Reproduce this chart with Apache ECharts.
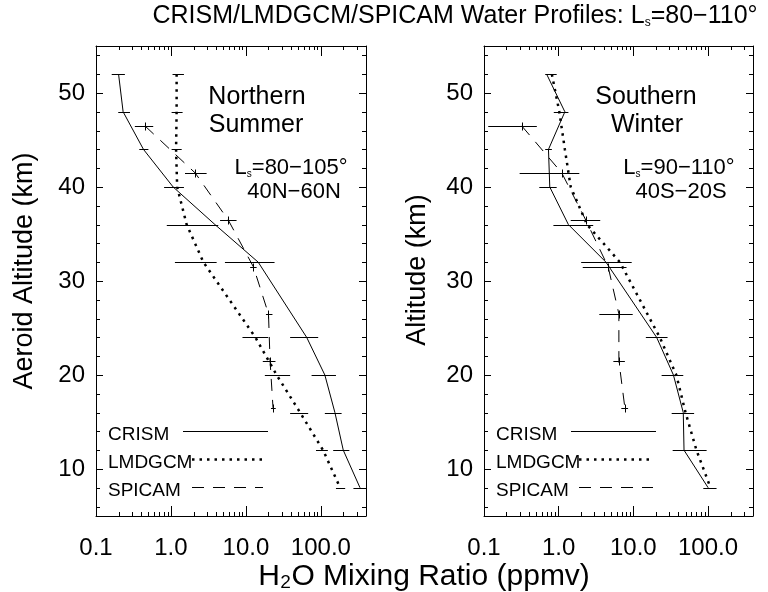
<!DOCTYPE html>
<html><head><meta charset="utf-8">
<script src="https://cdn.jsdelivr.net/npm/echarts@6/dist/echarts.min.js"></script>
<style>html,body{margin:0;padding:0;background:#fff}#c{width:768px;height:592px}</style>
</head><body><div id="c"></div>
<script>
// ---------- axis ranges & tick values ----------
const X_MIN = 0.1, X_MAX = 400, Y_MIN = 5, Y_MAX = 55;
const xMinorTicks = [0.2,0.3,0.4,0.5,0.6,0.7,0.8,0.9, 2,3,4,5,6,7,8,9, 20,30,40,50,60,70,80,90, 200,300];
const yMinorTicks = [6,8,12,14,16,18,22,24,26,28,32,34,36,38,42,44,46,48,52,54];

// ---------- Northern Summer (left panel) ----------
const crismAltN = [52,48,44,40,36,32,24,20,16,12,8];
const crismValN = [0.2,0.23,0.43,1.07,3.87,14.6,64.7,113,154,199,333];
const crismLoN  = [0.162,0.198,0.378,0.81,null,5.25,38.9,75.2,113,146,272];
const crismHiN  = [0.243,0.284,0.50,1.49,null,24.1,92.1,159,189,240,400];

const lmdAltN = [52,48,44,40,36,32,24,20,16,12,8];
const lmdValN = [1.19,1.19,1.17,1.21,1.62,2.71,13.4,25.7,52.9,107,181];
const lmdLoN  = [1.05,1.02,1.02,null,0.88,1.13,9.0,17.9,38.9,86.1,159];
const lmdHiN  = [1.49,1.43,1.39,null,4.28,4.07,19.8,38.9,67.7,124,211];

const spiAltN = [46.5,41.5,36.5,31.5,26.5,21.5,16.5];
const spiValN = [0.45,2.1,5.8,12.6,20,21,23];
const spiLoN  = [0.33,1.54,4.52,11.4,18.5,16.8,21.6];
const spiHiN  = [0.58,2.99,7.5,13.9,22.6,24.8,25.0];

// ---------- Southern Winter (right panel) ----------
const crismAltS = [52,48,44,40,36,32,24,20,16,12,8];
const crismValS = [0.69,1.21,0.73,0.76,1.35,4.3,20.5,34.4,46.6,47.7,100.5];
const crismLoS  = [0.66,0.86,0.66,0.55,0.85,2.0,14.7,23.9,32.6,33.6,86.4];
const crismHiS  = [0.94,1.35,0.81,0.94,2.9,9.5,28.7,46.6,65.1,95.7,130];

const lmdAltS = [52,48,44,40,36,32,24,20,16,12,8];
const lmdValS = [0.81,1.02,1.21,1.45,2.4,6.6,22.6,37.6,50,70,108];

const spiAltS = [46.5,41.5,36.5,31.5,26.5,21.5,16.5];
const spiValS = [0.32,1.1,2.3,4.6,6.4,6.4,7.7];
const spiLoS  = [0.114,0.30,1.45,2.1,3.5,5.4,6.9];
const spiHiS  = [0.51,1.89,3.6,8.1,9.8,7.7,8.5];

// ---------- helpers ----------
const FONT = 'Liberation Sans, Arial, sans-serif';
const BLACK = '#000';
function pairs(vals, alts){ return vals.map((v,i)=>[v, alts[i]]); }
function bars(lo, hi, alts, vals){
  const out = [];
  lo.forEach((l,i)=>{ if (l!=null && hi[i]!=null) out.push([l, hi[i], alts[i], vals[i]]); });
  return out;
}
function fmtX(v){
  const l = Math.log10(v);
  return Math.abs(l - Math.round(l)) < 1e-6 ? v.toFixed(1) : '';
}
function errRender(withTick){
  return function(params, api){
    const y = api.value(2);
    const a = api.coord([api.value(0), y]);
    const b = api.coord([api.value(1), y]);
    const py = Math.round(a[1]) + 0.5;
    const ch = [{type:'line', shape:{x1:a[0], y1:py, x2:b[0], y2:py}, style:{stroke:BLACK, lineWidth:1}}];
    if (withTick){
      const c = api.coord([api.value(3), y]);
      const px = Math.round(c[0]) + 0.5;
      ch.push({type:'line', shape:{x1:px, y1:py-4, x2:px, y2:py+4}, style:{stroke:BLACK, lineWidth:1}});
    }
    return {type:'group', children:ch};
  };
}
function xMinorRender(params, api){
  const v = api.value(0);
  const b = api.coord([v, Y_MIN]), t = api.coord([v, Y_MAX]);
  const x = Math.round(b[0]) + 0.5;
  return {type:'group', children:[
    {type:'line', shape:{x1:x, y1:b[1], x2:x, y2:b[1]-4}, style:{stroke:BLACK, lineWidth:1}},
    {type:'line', shape:{x1:x, y1:t[1], x2:x, y2:t[1]+4}, style:{stroke:BLACK, lineWidth:1}}
  ]};
}
function yMinorRender(params, api){
  const v = api.value(1);
  const l = api.coord([X_MIN, v]), r = api.coord([X_MAX, v]);
  const y = Math.round(l[1]) + 0.5;
  return {type:'group', children:[
    {type:'line', shape:{x1:l[0], y1:y, x2:l[0]+4, y2:y}, style:{stroke:BLACK, lineWidth:1}},
    {type:'line', shape:{x1:r[0], y1:y, x2:r[0]-4, y2:y}, style:{stroke:BLACK, lineWidth:1}}
  ]};
}

const axisLine = {show:true, onZero:false, lineStyle:{color:BLACK, width:1}};
function xAx(grid, pos){
  return {gridIndex:grid, type:'log', logBase:10, min:X_MIN, max:X_MAX, position:pos,
    axisLine, splitLine:{show:false},
    axisTick:{show:true, inside:true, length:10, lineStyle:{color:BLACK, width:1}},
    minorTick:{show:false},
    axisLabel:{show:pos==='bottom', formatter:fmtX, margin:20, color:BLACK, fontSize:24, fontFamily:FONT}};
}
function yAx(grid, pos){
  return {gridIndex:grid, type:'value', min:Y_MIN, max:Y_MAX, splitNumber:5, position:pos,
    axisLine, splitLine:{show:false},
    axisTick:{show:true, inside:true, length:7, lineStyle:{color:BLACK, width:1}},
    minorTick:{show:false},
    axisLabel:{show:pos==='left', formatter:v => (v%10===0 ? String(v) : ''), margin:11, color:BLACK, fontSize:24, fontFamily:FONT}};
}
function lineS(xi, yi, vals, alts, style){
  return {type:'line', xAxisIndex:xi, yAxisIndex:yi, data:pairs(vals, alts), symbol:'none',
    silent:true, animation:false, lineStyle:Object.assign({color:BLACK, width:1}, style)};
}
function errS(xi, yi, data, tick){
  return {type:'custom', xAxisIndex:xi, yAxisIndex:yi, data, renderItem:errRender(tick),
    encode:{x:[0,1], y:2}, silent:true, animation:false};
}
function tickS(xi, yi){
  return [
    {type:'custom', xAxisIndex:xi, yAxisIndex:yi, data:xMinorTicks.map(v=>[v, Y_MIN]), renderItem:xMinorRender, encode:{x:0,y:1}, silent:true, animation:false},
    {type:'custom', xAxisIndex:xi, yAxisIndex:yi, data:yMinorTicks.map(v=>[X_MIN, v]), renderItem:yMinorRender, encode:{x:0,y:1}, silent:true, animation:false}
  ];
}
function txt(x, y, text, size, extra){
  return Object.assign({type:'text', x, y, silent:true,
    style:{text, x:0, y:0, fill:BLACK, font: size + 'px ' + FONT, align:'center', verticalAlign:'middle', textAlign:'center', textVerticalAlign:'middle'}}, extra||{});
}
function richTxt(x, y, a, s, b, size, subSize){
  return {type:'text', x, y, silent:true,
    style:{text:'{a|'+a+'}{s|'+s+'}{a|'+b+'}', x:0, y:0, align:'center', verticalAlign:'middle', textAlign:'center', textVerticalAlign:'middle',
      rich:{a:{fontSize:size, fontFamily:FONT, fill:BLACK, color:BLACK},
            s:{fontSize:subSize, fontFamily:FONT, fill:BLACK, color:BLACK, verticalAlign:'bottom'}}}};
}
function legLine(x1, x2, y, dash, w){
  return {type:'line', silent:true, shape:{x1, y1:y+0.5, x2, y2:y+0.5},
    style:{stroke:BLACK, lineWidth:w, lineDash:dash, lineCap:'butt'}};
}
function legTxt(x, y, text){
  return {type:'text', x, y, silent:true, style:{text, x:0, y:0, fill:BLACK, font:'19px ' + FONT, align:'left', verticalAlign:'middle', textAlign:'left', textVerticalAlign:'middle'}};
}

const DOT = {type:[2.5,5], width:2.5, cap:'butt'};
const DASH = {type:[12,9], width:1};

const option = {
  backgroundColor:'#fff',
  animation:false,
  grid:[
    {left:96, top:46, width:270, height:470, containLabel:false, outerBoundsMode:'none'},
    {left:484, top:46, width:269, height:470, containLabel:false, outerBoundsMode:'none'}
  ],
  xAxis:[xAx(0,'bottom'), xAx(0,'top'), xAx(1,'bottom'), xAx(1,'top')],
  yAxis:[yAx(0,'left'), yAx(0,'right'), yAx(1,'left'), yAx(1,'right')],
  series:[
    lineS(0,0, crismValN, crismAltN, {}),
    lineS(0,0, lmdValN, lmdAltN, DOT),
    lineS(0,0, spiValN, spiAltN, DASH),
    errS(0,0, bars(crismLoN, crismHiN, crismAltN, crismValN), false),
    errS(0,0, bars(lmdLoN, lmdHiN, lmdAltN, lmdValN), false),
    errS(0,0, bars(spiLoN, spiHiN, spiAltN, spiValN), true),
    ...tickS(0,0),
    lineS(2,2, crismValS, crismAltS, {}),
    lineS(2,2, lmdValS, lmdAltS, DOT),
    lineS(2,2, spiValS, spiAltS, DASH),
    errS(2,2, bars(crismLoS, crismHiS, crismAltS, crismValS), false),
    errS(2,2, bars(spiLoS, spiHiS, spiAltS, spiValS), true),
    ...tickS(2,2)
  ],
  graphic:{elements:[
    richTxt(455, 16, 'CRISM/LMDGCM/SPICAM Water Profiles: L', 's', '=80\u2212110\u00b0', 25, 12),
    txt(424, 577, 'H\u2082O Mixing Ratio (ppmv)', 30),
    txt(25, 271, 'Aeroid Altitude (km)', 27, {rotation:Math.PI/2}),
    txt(418, 270, 'Altitude (km)', 27, {rotation:Math.PI/2}),
    txt(257, 97, 'Northern', 25),
    txt(256, 125, 'Summer', 25),
    richTxt(291, 168, 'L', 's', '=80\u2212105\u00b0', 22, 10),
    txt(294, 192, '40N\u221260N', 22),
    txt(646, 97, 'Southern', 25),
    txt(647, 125, 'Winter', 25),
    richTxt(679, 168, 'L', 's', '=90\u2212110\u00b0', 22, 10),
    txt(681, 192, '40S\u221220S', 22),
    legTxt(108, 435, 'CRISM'), legLine(183, 268, 431, null, 1),
    legTxt(108, 463, 'LMDGCM'), legLine(192, 265, 459, [2.5,5], 2.5),
    legTxt(108, 491, 'SPICAM'), legLine(192, 263, 487, [12,9], 1),
    legTxt(496, 435, 'CRISM'), legLine(571, 656, 431, null, 1),
    legTxt(496, 463, 'LMDGCM'), legLine(579, 653, 459, [2.5,5], 2.5),
    legTxt(496, 491, 'SPICAM'), legLine(579, 653, 487, [12,9], 1)
  ]}
};
const chart = echarts.init(document.getElementById('c'), null, {renderer:'canvas'});
chart.setOption(option);
</script></body></html>
